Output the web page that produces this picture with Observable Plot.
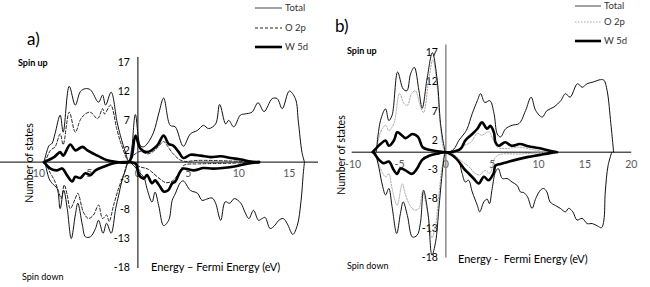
<!DOCTYPE html>
<html><head><meta charset="utf-8">
<script src="https://cdn.jsdelivr.net/npm/d3@7"></script>
<script src="https://cdn.jsdelivr.net/npm/@observablehq/plot@0.6"></script>
<style>
body{margin:0;background:#fff;}
#wrap{position:relative;width:650px;height:287px;overflow:hidden;font-family:Lato,"Open Sans",sans-serif;color:#000;}
.pnl{position:absolute;top:0;}
.lbl{position:absolute;white-space:pre;line-height:1;}
</style></head><body><div id="wrap"></div>
<script>
// ---------- tick labels ----------
const yTicks = [17, 12, 7, 2, -3, -8, -13, -18];
const aXTicks = [-10, -5, 0, 5, 10, 15];
const bXTicks = [-10, -5, 0, 5, 10, 15, 20];
const legendNames = ["Total", "O 2p", "W 5d"];

// ---------- panel a) : [energy (eV), number of states] ----------
const aTotalUp = [[-9.3,0],[-8.8,2.8],[-8.5,3.2],[-8.2,4.9],[-7.7,8.0],[-7.4,5.1],[-6.8,12.9],[-6.2,9.7],[-5.7,12.0],[-5.2,12.5],[-4.7,12.3],[-3.9,10.2],[-3.5,11.4],[-3.2,9.7],[-2.65,11.9],[-2.06,6.8],[-1.73,4.5],[-1.24,1.7],[-0.9,0.1],[-0.6,2.5],[-0.25,8.1],[0.25,2.8],[0.57,2.6],[1.0,3.3],[1.56,5.1],[2.1,8.5],[2.55,10.9],[3.2,6.25],[3.7,6.0],[4.5,2.7],[5.2,4.8],[5.9,5.4],[6.5,6.25],[7.0,5.7],[7.7,6.5],[8.1,9.8],[8.7,6.5],[9.0,7.1],[9.5,6.0],[10.15,8.0],[10.6,8.2],[11.3,8.5],[11.9,10.1],[12.5,8.6],[13.3,10.8],[13.8,10.8],[14.3,9.1],[15.0,12.1],[15.6,10.8],[15.9,6.8],[16.25,1.7],[16.5,0]];
const aO2pUp = [[-9.2,0],[-8.66,2.0],[-8.2,2.6],[-7.7,4.8],[-7.4,3.0],[-6.8,8.5],[-6.2,5.1],[-5.7,7.2],[-5.2,8.2],[-4.7,8.5],[-4.0,7.4],[-3.5,9.1],[-3.3,8.2],[-2.7,9.7],[-2.1,5.7],[-1.6,2.8],[-0.9,0.2],[-0.4,1.2],[0.2,1.8],[1.0,1.4],[1.8,2.2],[2.55,3.5],[2.9,2.8],[3.5,1.4],[4.4,0.2],[6,0.3],[9,0.2],[12,0]];
const aW5dUp = [[-9.3,0],[-8.3,0.85],[-7.7,1.7],[-7.4,1.1],[-6.7,3.0],[-6.2,2.0],[-5.5,2.6],[-5.0,2.0],[-4.0,1.1],[-3.05,0.3],[-2.2,0.05],[-0.9,0],[-0.6,1.0],[-0.25,4.5],[0.25,2.3],[0.9,1.7],[1.9,2.8],[2.55,4.5],[3.05,3.1],[3.5,2.8],[4.05,1.7],[4.5,0.7],[5.2,1.25],[6.2,1.1],[7.2,0.85],[8.2,1.0],[9.2,0.7],[10.2,0.45],[11.2,0.1],[12,0]];
const aTotalDn = [[-9.2,0],[-8.8,-2.8],[-8.5,-3.6],[-8.0,-4.5],[-7.7,-7.9],[-7.35,-4.8],[-7.0,-7.9],[-6.6,-13.0],[-6.2,-9.0],[-5.95,-7.0],[-5.5,-10.7],[-5.2,-12.7],[-4.7,-12.7],[-4.2,-11.3],[-3.9,-9.9],[-3.45,-12.1],[-3.1,-10.4],[-2.65,-12.1],[-2.2,-7.9],[-1.9,-5.6],[-1.6,-3.3],[-1.24,-1.4],[-0.9,0],[-0.3,-0.8],[0.1,-1.7],[0.6,-2.6],[0.9,-4.5],[1.4,-6.8],[1.7,-5.1],[2.06,-7.4],[2.55,-10.8],[3.05,-9.9],[3.4,-6.5],[3.7,-5.4],[4.2,-3.5],[4.5,-3.2],[5.2,-4.8],[5.9,-5.3],[6.35,-6.5],[6.8,-6.3],[7.35,-6.1],[7.7,-7.0],[8.2,-9.9],[8.65,-6.75],[9.1,-7.0],[9.55,-6.2],[10.2,-7.0],[10.6,-8.5],[11.0,-9.6],[11.45,-8.2],[11.95,-9.9],[12.3,-9.6],[12.6,-9.4],[13.1,-11.3],[13.6,-10.7],[13.95,-9.9],[14.4,-9.6],[14.8,-10.5],[15.35,-12.3],[15.8,-10.7],[16.15,-6.75],[16.4,-1.6],[16.5,0]];
const aO2pDn = [[-9.2,0],[-8.66,-1.9],[-8.3,-3.0],[-7.85,-5.0],[-7.6,-6.2],[-7.3,-3.9],[-7.0,-5.6],[-6.7,-7.9],[-6.2,-6.2],[-5.95,-5.3],[-5.4,-8.5],[-4.9,-9.6],[-4.4,-9.0],[-3.9,-7.3],[-3.5,-9.6],[-3.1,-9.0],[-2.85,-10.1],[-2.4,-7.3],[-1.9,-4.4],[-1.4,-2.1],[-0.9,0],[0.2,-0.8],[1.0,-1.2],[2.0,-2.6],[2.8,-3.5],[3.5,-3.1],[4.2,-1.4],[4.6,-0.5],[6,-0.3],[9,-0.2],[12,0]];
const aW5dDn = [[-9.3,0],[-8.66,-1.1],[-8.0,-1.4],[-7.5,-1.1],[-7.0,-2.3],[-6.5,-3.3],[-6.2,-2.5],[-5.7,-2.7],[-5.2,-1.9],[-4.7,-2.2],[-4.2,-1.4],[-3.4,-0.8],[-2.4,-0.2],[-0.9,0],[-0.2,-0.3],[0.1,-2.2],[0.6,-2.8],[0.9,-2.2],[1.4,-3.6],[1.7,-3.1],[2.2,-4.2],[2.55,-5.0],[3.0,-4.8],[3.4,-3.6],[3.7,-3.3],[4.2,-1.6],[4.5,-1.1],[5.5,-1.4],[6.5,-1.0],[7.4,-1.1],[8.4,-1.0],[9.7,-0.7],[10.7,-0.3],[12,0]];

// ---------- panel b) ----------
const bTotalUp = [[-7.5,0],[-7.05,5.4],[-6.5,7.4],[-6.15,5.4],[-5.8,6.3],[-5.2,13.7],[-4.6,10.8],[-4.2,10.5],[-3.8,13.4],[-3.4,14.5],[-2.9,10.5],[-2.55,7.5],[-2.0,12.8],[-1.45,17.0],[-0.93,12.3],[-0.57,4.9],[-0.2,1.1],[0,0],[0.7,0.3],[1.0,0.8],[1.4,2.0],[1.95,3.1],[2.3,4.0],[2.85,6.6],[3.4,8.8],[3.75,10.0],[4.2,8.5],[4.75,8.8],[5.2,6.6],[5.55,3.1],[5.9,2.6],[6.45,4.0],[7.15,4.6],[7.9,4.9],[8.6,7.1],[9.2,9.4],[9.7,7.1],[10.4,6.0],[10.9,7.1],[11.65,7.7],[12.4,8.8],[12.9,10.0],[13.4,9.4],[14.2,11.7],[14.7,11.1],[15.25,11.7],[15.9,12.0],[16.7,12.4],[17.05,12.3],[17.4,10.5],[17.8,4.9],[18.05,0.85],[18.1,0]];
const bO2pUp = [[-7.5,0],[-7.05,3.4],[-6.5,4.6],[-6.15,3.7],[-5.6,4.9],[-5.0,10.0],[-4.5,8.3],[-4.15,8.0],[-3.7,10.0],[-3.3,10.5],[-2.7,7.6],[-2.4,6.8],[-1.85,12.3],[-1.4,15.8],[-0.93,11.1],[-0.57,4.3],[0,0],[1.2,0],[1.95,1.1],[2.7,1.7],[3.4,3.2],[3.9,2.9],[4.6,3.5],[5.15,2.0],[5.55,0.85],[6.4,0.6],[7.85,0.85],[9.5,0.4],[11,0]];
const bW5dUp = [[-7.9,0],[-7.05,1.4],[-6.5,2.0],[-6.15,1.1],[-5.6,2.0],[-5.25,3.4],[-4.9,3.1],[-4.35,2.4],[-3.6,3.1],[-3.0,2.6],[-2.5,0.85],[-1.8,0.4],[-1.1,0.2],[0,0],[0.5,0],[1.6,0.6],[2.1,2.0],[2.85,3.1],[3.4,4.0],[3.9,5.1],[4.45,4.0],[4.8,4.5],[5.2,3.3],[5.35,1.7],[5.7,1.1],[6.4,1.7],[7.1,1.1],[8.0,1.4],[8.9,1.0],[10.0,0.7],[11.1,0.3],[12,0]];
const bTotalDn = [[-7.6,0],[-7.2,-2.8],[-6.85,-5.6],[-6.5,-7.3],[-6.15,-6.2],[-5.8,-9.3],[-5.3,-13.9],[-4.9,-10.5],[-4.6,-8.5],[-4.15,-10.8],[-3.6,-14.5],[-3.1,-14.2],[-2.75,-12.2],[-2.4,-6.5],[-1.9,-10.8],[-1.5,-17.6],[-1.1,-15.3],[-0.75,-9.6],[-0.45,-4.5],[-0.2,-1.1],[0,0],[0.85,-0.8],[1.4,-1.6],[1.75,-3.6],[2.1,-5.1],[2.45,-4.8],[2.85,-6.8],[3.4,-9.1],[3.65,-10.2],[4.1,-8.5],[4.45,-8.0],[4.7,-8.8],[5.0,-6.2],[5.35,-3.4],[5.65,-2.8],[6.1,-4.5],[6.6,-4.5],[7.15,-5.1],[7.7,-5.7],[8.05,-6.8],[8.4,-6.9],[8.8,-7.6],[9.3,-9.6],[9.7,-7.9],[10.2,-6.5],[10.55,-6.2],[10.9,-6.8],[11.25,-8.5],[11.8,-9.1],[12.35,-9.6],[12.9,-10.2],[13.25,-9.6],[13.7,-10.2],[14.15,-11.6],[14.7,-11.3],[15.25,-12.2],[15.8,-12.2],[16.35,-12.6],[16.8,-12.9],[17.05,-11.6],[17.2,-6.8],[17.5,-2.3],[17.9,0]];
const bO2pDn = [[-7.6,0],[-7.05,-2.8],[-6.5,-4.2],[-6.15,-3.7],[-5.8,-6.2],[-5.25,-9.1],[-4.7,-5.4],[-4.35,-7.3],[-3.8,-9.3],[-3.3,-9.9],[-2.9,-9.6],[-2.5,-6.8],[-2.0,-10.0],[-1.5,-14.6],[-1.1,-12.4],[-0.75,-7.3],[-0.35,-2.1],[0,0],[1.0,-0.6],[1.75,-1.6],[2.45,-2.4],[3.15,-3.6],[3.65,-3.9],[4.2,-3.1],[4.75,-3.6],[5.3,-1.0],[5.8,-0.4],[8,-0.3],[11,0]];
const bW5dDn = [[-7.8,0],[-7.2,-1.3],[-6.7,-1.9],[-6.15,-1.6],[-5.6,-3.1],[-5.25,-3.7],[-4.9,-2.8],[-4.35,-3.1],[-3.65,-3.7],[-3.1,-2.8],[-2.55,-1.3],[-1.8,-0.6],[-0.75,-0.2],[0,0],[0.85,-0.7],[1.4,-1.6],[1.95,-2.8],[2.45,-3.6],[3.0,-4.5],[3.55,-5.35],[4.1,-4.2],[4.6,-4.8],[5.15,-3.6],[5.35,-2.3],[5.9,-2.0],[6.6,-1.7],[7.3,-1.4],[8.05,-1.1],[8.9,-0.8],[10.0,-0.5],[11.1,-0.2],[11.8,0]];

// ---------- drawing ----------
const FONT = "Lato, 'Open Sans', sans-serif";
function lineMark(data, style) {
  return Plot.line(data, {x: d => d[0], y: d => d[1], curve: "catmull-rom", fill: "none", ...style});
}
function panel(cfg) {
  const sTot = {stroke: "#111", strokeWidth: 1};
  const sW = {stroke: "#000", strokeWidth: 2.6};
  return Plot.plot({
    width: cfg.width, height: 287,
    marginLeft: cfg.ml, marginRight: cfg.mr, marginTop: cfg.mt, marginBottom: cfg.mb,
    x: {domain: cfg.xd, axis: null},
    y: {domain: cfg.yd, axis: null},
    style: {background: "transparent", fontFamily: FONT, overflow: "visible"},
    marks: [
      Plot.text(cfg.xt, {x: d => d, y: 0, text: d => String(d), dy: 12, fill: "#595959", fontSize: 10.5}),
      Plot.text(yTicks, {x: 0, y: d => d, text: d => String(d), textAnchor: "end", dx: -8, fill: "#000", fontSize: 10.5}),
      Plot.ruleY([0], {stroke: "#000", strokeWidth: 1}),
      Plot.ruleX([0], {stroke: cfg.vStroke, strokeWidth: cfg.vWidth}),
      lineMark(cfg.o2pUp, cfg.o2pStyle),
      lineMark(cfg.o2pDn, cfg.o2pStyle),
      lineMark(cfg.totUp, sTot),
      lineMark(cfg.totDn, sTot),
      lineMark(cfg.wUp, sW),
      lineMark(cfg.wDn, sW)
    ]
  });
}

const wrap = document.getElementById("wrap");
function place(node, left) { node.classList.add("pnl"); node.style.left = left + "px"; wrap.appendChild(node); }

place(panel({
  width: 325, ml: 0, mr: 7, mt: 57, mb: 19,
  xd: [-13.61, 17.89], yd: [-18.1, 17.8], xt: aXTicks,
  vStroke: "#000", vWidth: 1,
  o2pStyle: {stroke: "#222", strokeWidth: 1, strokeDasharray: "3,2"},
  totUp: aTotalUp, totDn: aTotalDn, o2pUp: aO2pUp, o2pDn: aO2pDn, wUp: aW5dUp, wDn: aW5dDn
}), 0);

place(panel({
  width: 320, ml: 21.7, mr: 18.8, mt: 44.6, mb: 29.4,
  xd: [-10.1, 20.05], yd: [-18.1, 18.3], xt: bXTicks,
  vStroke: "#8c8c8c", vWidth: 1.5,
  o2pStyle: {stroke: "#a6a6a6", strokeWidth: 1, strokeDasharray: "1.5,1.5"},
  totUp: bTotalUp, totDn: bTotalDn, o2pUp: bO2pUp, o2pDn: bO2pDn, wUp: bW5dUp, wDn: bW5dDn
}), 330);

// ---------- texts & legends ----------
function text(str, x, y, opts = {}) {
  const d = document.createElement("div");
  d.className = "lbl";
  d.textContent = str;
  d.style.left = x + "px";
  d.style.top = y + "px";
  d.style.fontSize = (opts.size || 10) + "px";
  if (opts.bold) d.style.fontWeight = "bold";
  if (opts.color) d.style.color = opts.color;
  d.style.transform = opts.rotate ? "translate(-50%,-50%) rotate(-90deg)" : "translate(0,-50%)";
  wrap.appendChild(d);
  return d;
}
function legend(x0, x1, ys, styles) {
  const svg = d3.create("svg").attr("width", 650).attr("height", 60)
    .style("position", "absolute").style("left", 0).style("top", 0);
  ys.forEach((y, i) => {
    svg.append("line").attr("x1", x0).attr("x2", x1).attr("y1", y).attr("y2", y)
      .attr("stroke", styles[i].stroke).attr("stroke-width", styles[i].width)
      .attr("stroke-dasharray", styles[i].dash || null);
    text(legendNames[i], x1 + 3, y, {size: 9.5, color: "#333"});
  });
  wrap.appendChild(svg.node());
}

// panel a texts
text("a)", 27, 38, {size: 17});
text("Spin up", 18, 62, {size: 9, bold: true});
text("Spin down", 22, 276, {size: 9});
text("Number of states", 29, 163, {size: 10.5, rotate: true});
text("Energy \u2013 Fermi Energy (eV)", 151, 266, {size: 11});
legend(255, 282, [8, 28, 47], [
  {stroke: "#444", width: 1},
  {stroke: "#222", width: 1, dash: "3,2"},
  {stroke: "#000", width: 2.6}
]);

// panel b texts
text("b)", 335, 25, {size: 17});
text("Spin up", 347, 50, {size: 9, bold: true});
text("Spin down", 347, 265, {size: 9});
text("Number of states", 341, 155, {size: 10.5, rotate: true});
text("Energy -  Fermi Energy (eV)", 458, 258, {size: 11});
legend(575, 601, [6, 22, 41], [
  {stroke: "#444", width: 1},
  {stroke: "#a6a6a6", width: 1, dash: "1.5,1.5"},
  {stroke: "#000", width: 2.6}
]);
</script></body></html>
